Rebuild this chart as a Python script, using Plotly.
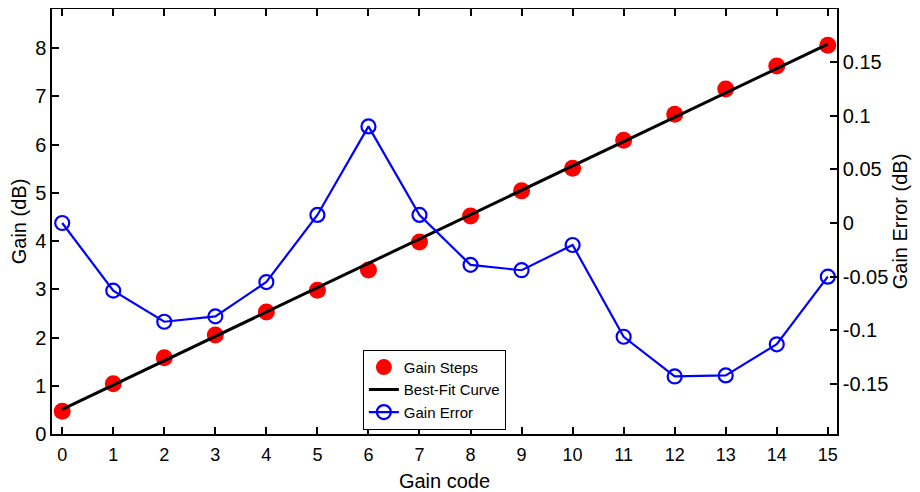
import plotly.graph_objects as go

gain_code = list(range(16))
gain_steps = [0.47, 1.04, 1.58, 2.05, 2.53, 2.98, 3.40, 3.98, 4.52, 5.04, 5.51, 6.09, 6.63, 7.15, 7.63, 8.06]
fit_x = [0, 15]
fit_y = [0.51, 8.08]
gain_error = [0.0, -0.063, -0.092, -0.087, -0.055, 0.0075, 0.090, 0.0075, -0.039, -0.044,
              -0.0205, -0.106, -0.143, -0.142, -0.113, -0.050]

FONT = "Liberation Sans, Arial, sans-serif"

fig = go.Figure()
fig.add_trace(go.Scatter(x=gain_code, y=gain_steps, mode="markers", name="Gain Steps",
                         marker=dict(color="red", size=17, line=dict(width=0))))
fig.add_trace(go.Scatter(x=fit_x, y=fit_y, mode="lines", name="Best-Fit Curve",
                         line=dict(color="black", width=3)))
fig.add_trace(go.Scatter(x=gain_code, y=gain_error, mode="lines+markers", name="Gain Error",
                         yaxis="y2", line=dict(color="blue", width=2.2),
                         marker=dict(symbol="circle-open", color="blue", size=14, line=dict(width=2.2))))

def axis_common(fs):
    return dict(showline=True, linecolor="black", linewidth=1.5, ticks="inside",
                ticklen=7, tickcolor="black", tickwidth=1.5, showgrid=False, zeroline=False,
                automargin=False,
                tickfont=dict(family=FONT, size=fs, color="black"))

# the page body has an 8px default margin, so the figure is sized/offset to compensate
fig.update_layout(
    width=912, height=484,
    margin=dict(l=44, r=83, t=1, b=58),
    paper_bgcolor="white", plot_bgcolor="white",
    font=dict(family=FONT, color="black"),
    xaxis=dict(range=[-0.2, 15.18], tickvals=gain_code, mirror="ticks", ticklabelstandoff=4,
               title=dict(text="Gain code", font=dict(family=FONT, size=20), standoff=10),
               **axis_common(18)),
    yaxis=dict(range=[0, 8.81], tickvals=[0, 1, 2, 3, 4, 5, 6, 7, 8],
               title=dict(text="Gain (dB)", font=dict(family=FONT, size=20), standoff=6),
               **axis_common(20)),
    yaxis2=dict(range=[-0.1966, 0.1994], overlaying="y", side="right",
                tickvals=[-0.15, -0.1, -0.05, 0, 0.05, 0.1, 0.15],
                ticktext=["-0.15", "-0.1", "-0.05", "0", "0.05", "0.1", "0.15"],
                title=dict(text="Gain Error (dB)", font=dict(family=FONT, size=20), standoff=6),
                **axis_common(20)),
    legend=dict(x=0.396, y=0.198, xanchor="left", yanchor="top",
                bgcolor="white", bordercolor="black", borderwidth=1,
                font=dict(family=FONT, size=15, color="black"),
                itemwidth=30, tracegroupgap=0),
    showlegend=True,
)

fig.write_html("out.html")
